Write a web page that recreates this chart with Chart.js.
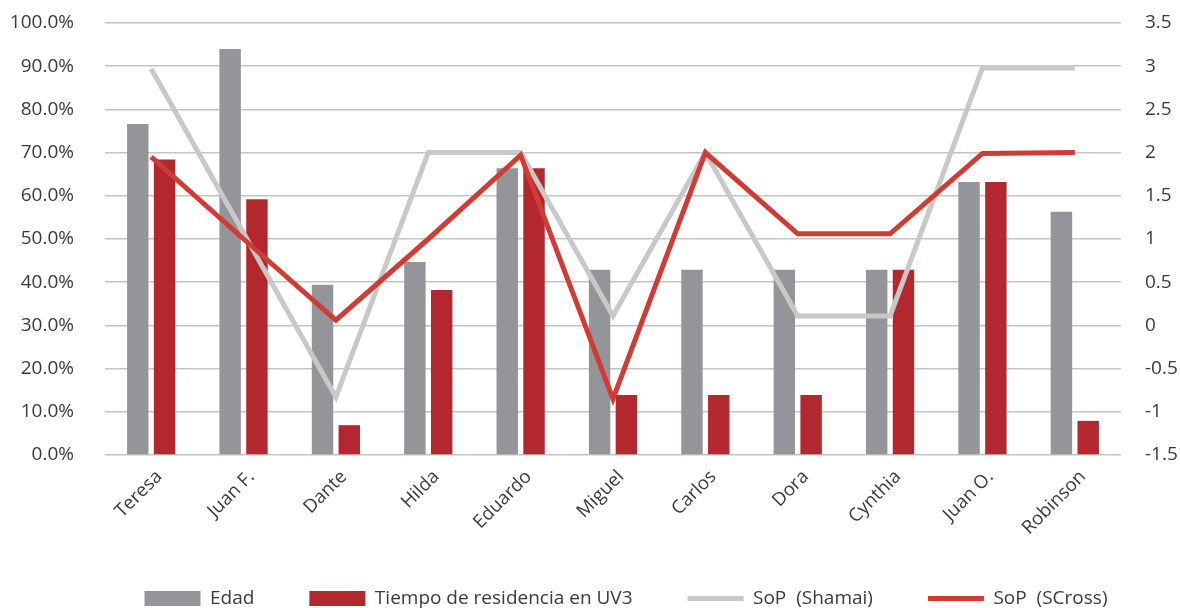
<!DOCTYPE html>
<html>
<head>
<meta charset="utf-8">
<script src="https://cdn.jsdelivr.net/npm/chart.js@4.4.0/dist/chart.umd.min.js"></script>
<style>
  html, body { margin: 0; padding: 0; background: #fff; }
  #wrap { width: 1180px; height: 608px; }
</style>
</head>
<body>
<div id="wrap"><canvas id="myChart"></canvas></div>
<script>
var nombres = ['Teresa', 'Juan F.', 'Dante', 'Hilda', 'Eduardo', 'Miguel', 'Carlos', 'Dora', 'Cynthia', 'Juan O.', 'Robinson'];
var edad = [76.6, 94.0, 39.4, 44.7, 66.4, 42.9, 42.9, 42.9, 42.9, 63.2, 56.3];
var residencia = [68.4, 59.2, 6.9, 38.2, 66.4, 13.9, 13.9, 13.9, 42.9, 63.2, 7.9];
var sopShamai = [2.97, 1.07, -0.83, 2.0, 2.0, 0.11, 2.0, 0.11, 0.11, 2.98, 2.98];
var sopSCross = [1.95, 1.0, 0.06, 1.0, 1.97, -0.85, 2.0, 1.06, 1.06, 1.99, 2.0];

var tickFont = { family: 'Open Sans', size: 19 };
var legendPad = 55;

// legend rows sit lower than chart.js puts them; keep chart area as is
var moveLegend = {
  id: 'moveLegend',
  afterLayout: function (chart) {
    var lg = chart.legend;
    lg.top = 597 - legendPad - 8;
    lg.bottom = 608;
    lg.left += 36;
    lg.right += 36;
  }
};

// y axes: fixed width, no extra top/bottom padding from tick padding
function fixY(w) {
  return function (scale) {
    scale.width = w;
    scale.paddingTop = 0;
    scale.paddingBottom = 0;
  };
}

var ctx = document.getElementById('myChart').getContext('2d');
var config = {
  data: {
    labels: nombres,
    datasets: [{
      type: 'bar',
      label: 'Edad',
      data: edad,
      backgroundColor: '#939598',
      yAxisID: 'y',
      order: 2,
      pointStyle: 'rect'
    }, {
      type: 'bar',
      label: 'Tiempo de residencia en UV3',
      data: residencia,
      backgroundColor: '#b3282f',
      yAxisID: 'y',
      order: 3,
      pointStyle: 'rect'
    }, {
      type: 'line',
      label: 'SoP  (Shamai)',
      data: sopShamai,
      borderColor: '#c8c8c6',
      backgroundColor: '#c8c8c6',
      borderWidth: 5,
      pointRadius: 0,
      tension: 0,
      yAxisID: 'y1',
      order: 1,
      pointStyle: 'line'
    }, {
      type: 'line',
      label: 'SoP  (SCross)',
      data: sopSCross,
      borderColor: '#d13b33',
      backgroundColor: '#d13b33',
      borderWidth: 5,
      pointRadius: 0,
      tension: 0,
      yAxisID: 'y1',
      order: 0,
      pointStyle: 'line'
    }]
  },
  options: {
    responsive: true,
    maintainAspectRatio: false,
    animation: false,
    layout: { padding: { left: 0, right: 0, top: 23, bottom: 0 } },
    datasets: {
      bar: { categoryPercentage: 0.58, barPercentage: 0.8 }
    },
    plugins: {
      tooltip: { enabled: false },
      legend: {
        position: 'bottom',
        maxHeight: 40,
        labels: {
          usePointStyle: true,
          pointStyleWidth: 56,
          boxHeight: 15,
          padding: legendPad,
          color: '#3a3a3a',
          font: { family: 'Open Sans', size: 19 },
          sort: function (a, b) { return a.datasetIndex - b.datasetIndex; }
        }
      }
    },
    scales: {
      x: {
        grid: { display: false },
        border: { display: false },
        ticks: {
          color: '#3a3a3a',
          font: { family: 'Open Sans', size: 18.5 },
          maxRotation: 45,
          minRotation: 45,
          labelOffset: 8
        },
        afterFit: function (scale) { scale.height = 113; }
      },
      y: {
        position: 'left',
        min: 0,
        max: 100,
        grid: { color: '#c4c4c4', lineWidth: 1.5, drawTicks: false },
        border: { display: false },
        ticks: {
          stepSize: 10,
          padding: 31,
          color: '#3a3a3a',
          font: tickFont,
          callback: function (v) { return v.toFixed(1) + '%'; }
        },
        afterFit: fixY(105)
      },
      y1: {
        position: 'right',
        min: -1.5,
        max: 3.5,
        grid: { display: false, drawTicks: false },
        border: { display: false },
        ticks: {
          stepSize: 0.5,
          padding: 24,
          color: '#3a3a3a',
          font: tickFont,
          callback: function (v) { return String(v); }
        },
        afterFit: fixY(59)
      }
    }
  },
  plugins: [moveLegend]
};

var chart = new Chart(ctx, config);
</script>
</body>
</html>
